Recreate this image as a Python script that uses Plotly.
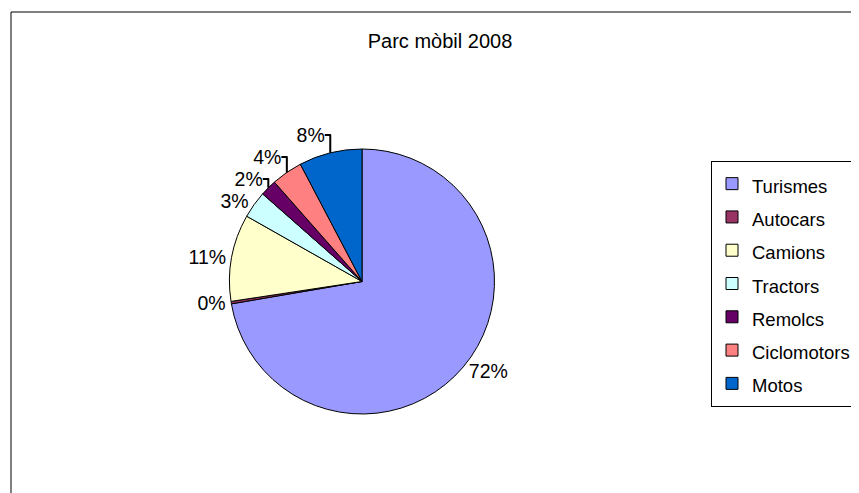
import plotly.graph_objects as go

# Vehicle fleet 2008, shares
categories = ["Turismes", "Autocars", "Camions", "Tractors", "Remolcs", "Ciclomotors", "Motos"]
shares = [72.3, 0.3, 10.6, 3.3, 2.0, 3.8, 7.7]
colors = ["#9999FF", "#993366", "#FFFFCC", "#CCFFFF", "#660066", "#FF8080", "#0066CC"]

# figure is a bit wider than the window so the legend box can run off the edge
W, H = 900, 493
OFF = 8  # the page body adds an 8px margin, so aim everything 8px up/left

# legend font is set large to get the roomy row spacing, the label itself is smaller
legend_labels = [f"<span style='font-size:18.5px'>{c}</span>" for c in categories]

fig = go.Figure(
    go.Pie(
        labels=legend_labels,
        values=shares,
        sort=False,
        direction="clockwise",
        rotation=0,
        marker=dict(colors=colors, line=dict(color="black", width=1)),
        textposition="outside",
        texttemplate="%{percent:.0%}",
        textfont=dict(family="Liberation Sans, Arial", size=19.5, color="black"),
        domain=dict(
            x=[(229.5 - OFF) / W, (494.5 - OFF) / W],
            y=[1 - (414 - OFF) / H, 1 - (149 - OFF) / H],
        ),
        hoverinfo="percent",
    )
)

fig.update_layout(
    width=W,
    height=H,
    margin=dict(l=0, r=0, t=0, b=0),
    paper_bgcolor="white",
    font=dict(family="Liberation Sans, Arial", size=19.5, color="black"),
    title=dict(
        text="Parc mòbil 2008",
        x=(440 - OFF) / W,
        y=1 - (41 - OFF) / H,
        xanchor="center",
        yanchor="middle",
        font=dict(size=20),
    ),
    legend=dict(
        x=(711 - OFF) / W,
        y=1 - (161 - OFF) / H,
        xanchor="left",
        yanchor="top",
        bordercolor="black",
        borderwidth=1,
        bgcolor="white",
        itemwidth=30,
        font=dict(size=23.3),
    ),
    showlegend=True,
)

# outer chart frame (runs off the right and bottom edges like the original)
fig.add_shape(
    type="rect",
    xref="paper",
    yref="paper",
    x0=(11 - OFF) / W,
    x1=1.05,
    y0=-0.05,
    y1=1 - (12 - OFF) / H,
    line=dict(color="black", width=1),
    fillcolor="rgba(0,0,0,0)",
)

fig.write_html("out.html")
